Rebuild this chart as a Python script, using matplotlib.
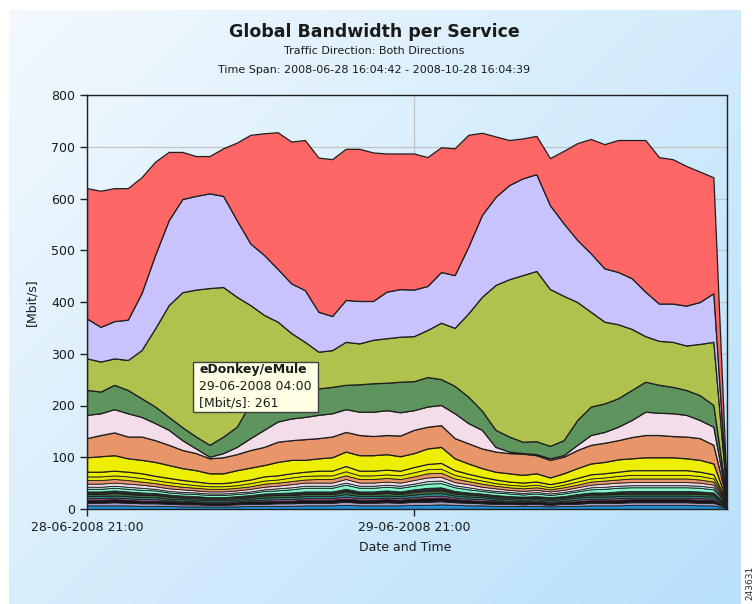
import matplotlib
matplotlib.use("Agg")
import matplotlib.pyplot as plt
import matplotlib.dates as mdates
from matplotlib.patches import Rectangle
import numpy as np
import pandas as pd

# ---------------- data (hourly) ----------------
times = pd.date_range("2008-06-28 21:00", periods=48, freq="h")

# stacked upper boundaries of the big services (Mbit/s)
red_top = [620,615,620,620,641,671,690,690,682,682, 697,708,723,726,728,710,713,679,676,696,
           696,689,687,687,687,680,699,697,723,727, 720,713,716,721,678,692,707,715,705,713,
           713,713,680,676,663,652,641,23]
lavender_top = [368,352,363,366,417,491,558,599,605,610, 605,558,513,491,464,436,423,381,373,404,
                402,402,420,425,424,431,458,452,507,568, 603,626,639,647,587,552,520,494,465,458,
                446,420,397,397,393,400,417,21]
edonkey_top = [291,285,291,288,307,349,394,419,424,427, 429,410,394,375,362,340,323,304,307,323,
               320,327,330,333,334,346,360,350,378,410, 433,444,452,460,425,412,400,381,362,357,
               348,334,325,323,316,319,323,20]
dkgreen_top = [230,227,240,230,214,198,178,158,140,124, 140,159,205,222,230,232,232,233,236,240,
               241,243,244,246,247,255,251,238,217,190, 153,140,130,131,122,133,172,198,204,214,
               230,246,240,236,230,220,201,18]
pink_top = [182,185,193,185,178,166,153,133,117,101, 108,120,137,153,169,175,178,182,185,193,
            188,188,191,187,191,198,201,185,166,153, 120,111,108,106,98,104,124,143,149,159,
            172,188,186,185,182,172,159,17]
orange_top = [137,143,148,140,140,133,124,114,108,98, 100,106,114,120,130,133,135,137,140,149,
              143,141,143,142,153,159,162,137,127,117, 111,108,107,104,95,101,114,124,128,133,
              139,143,143,141,140,137,124,16]
yellow_top = [100,102,104,98,95,91,85,79,75,69, 69,75,80,85,91,95,95,98,100,111,
              104,104,106,102,108,117,120,98,88,79, 72,69,66,69,61,69,79,88,91,96,
              98,100,100,100,98,95,88,15]

# small services at the bottom (values, bottom to top)
blue = [7,7,7,7,6,6,6,5,5,5, 5,5,6,6,6,6,7,7,7,8, 7,7,7,7,8,8,9,8,7,7, 6,6,6,6,5,6,6,7,7,7, 8,8,8,8,8,7,7,2]
lavgray = [5,5,6,5,5,5,4,4,4,3, 3,4,4,4,5,5,5,5,5,6, 5,5,6,5,6,6,6,5,5,4, 4,4,3,4,3,4,4,5,5,5, 5,5,5,5,5,5,5,1]
black = [6,6,6,6,5,5,5,5,4,4, 4,4,5,5,5,5,6,6,6,6, 6,6,6,6,6,7,7,6,5,5, 5,4,4,4,4,4,5,5,5,6, 6,6,6,6,6,6,5,1]
magenta = [3,3,3,3,3,3,2,2,2,2, 2,2,2,3,3,3,3,3,3,4, 3,3,3,3,3,4,4,3,3,3, 2,2,2,2,2,2,3,3,3,3, 3,3,3,3,3,3,3,1]
teal = [4,4,4,4,4,4,3,3,3,3, 3,3,3,4,4,4,4,4,4,5, 4,4,4,4,5,5,5,4,4,4, 3,3,3,3,3,3,4,4,4,4, 4,4,4,4,4,4,4,1]
dkgreen_thin = [4,4,5,4,4,4,4,3,3,3, 3,3,3,4,4,4,4,4,4,5, 4,4,5,4,5,5,5,4,4,3, 3,3,3,3,3,3,3,4,4,4, 4,4,4,4,4,4,4,1]
nearblack = [5,5,5,5,5,4,4,4,4,3, 3,4,4,4,4,5,5,5,5,5, 5,5,5,5,5,6,6,5,4,4, 4,3,3,3,3,3,4,4,4,5, 5,5,5,5,5,5,4,1]
aquamarine = [5,5,5,5,5,5,4,4,4,4, 4,4,4,5,5,6,7,7,7,8, 7,7,7,7,7,8,8,7,6,5, 5,5,4,5,4,5,5,6,7,7, 7,7,7,7,7,7,6,1]
cyanlight = [4,4,4,4,4,3,3,3,3,3, 3,3,3,3,4,4,4,4,4,4, 4,4,4,4,4,5,5,4,4,3, 3,3,3,3,3,3,3,4,4,4, 4,4,4,4,4,4,4,1]
pinkwhite = [6,6,6,6,6,5,5,5,4,4, 4,4,5,5,5,6,6,6,6,7, 6,6,6,6,7,7,7,6,6,5, 5,4,4,4,4,4,5,5,6,6, 6,6,6,6,6,6,5,1]
salmon_thin = [7,7,7,7,6,6,6,5,5,5, 5,5,5,6,6,6,6,7,7,7, 7,7,7,7,7,8,8,7,6,6, 5,5,5,5,4,5,5,6,6,6, 7,7,7,7,7,6,6,1]
gold = [7,7,7,7,7,6,6,6,5,5, 5,5,6,6,6,7,7,7,7,8, 7,7,7,7,8,8,8,7,6,6, 5,5,5,5,4,5,6,6,6,7, 7,7,7,7,7,7,6,1]
yellow2 = [9,9,9,9,9,8,8,7,7,6, 6,7,7,8,8,8,8,9,9,10, 9,9,9,9,10,10,11,9,8,7, 7,6,6,6,6,6,7,8,8,8, 9,9,9,9,9,8,8,1]

thin_layers = [
    (blue, "#1f8fd6"), (lavgray, "#a39cc4"), (black, "#141414"), (magenta, "#c45aa8"),
    (teal, "#2a8a8a"), (dkgreen_thin, "#3d6e3d"), (nearblack, "#2a2a2a"),
    (aquamarine, "#7ff5c8"), (cyanlight, "#a8e4e0"), (pinkwhite, "#f2dbe9"),
    (salmon_thin, "#e8956a"), (gold, "#e6e600"), (yellow2, "#eeee00"),
]
main_layers = [
    (yellow_top, "#eeee00"), (orange_top, "#e8956a"), (pink_top, "#f3dde9"),
    (dkgreen_top, "#5e945e"), (edonkey_top, "#b0c24e"), (lavender_top, "#c8c3fd"),
    (red_top, "#ff6666"),
]

tick_times = pd.to_datetime(["2008-06-28 21:00", "2008-06-29 21:00"])

# ---------------- figure ----------------
W, H = 755, 604
fig = plt.figure(figsize=(W / 100, H / 100), dpi=100)
fig.patch.set_facecolor("white")

# gradient background panel
bg = fig.add_axes([9 / W, 0, (741 - 9) / W, (H - 10) / H], zorder=-5)
gx = np.linspace(0, 1, 300)[None, :]
gy = np.linspace(0, 1, 300)[:, None]
t = np.clip(0.55 * gx + 0.45 * gy, 0, 1)
c0 = np.array([243, 249, 254]) / 255.0
c1 = np.array([184, 224, 250]) / 255.0
img = c0[None, None, :] + (c1 - c0)[None, None, :] * t[..., None]
bg.imshow(img, aspect="auto", extent=[0, 1, 0, 1], origin="upper")
bg.axis("off")

ax = fig.add_axes([87 / W, 95 / H, 640 / W, 414 / H])
ax.patch.set_alpha(0)

x = mdates.date2num(times.to_pydatetime())
edge = "#1e1e1e"
lower = np.zeros(len(x))
for vals, col in thin_layers:
    upper = lower + np.array(vals, dtype=float)
    ax.fill_between(x, lower, upper, facecolor=col, edgecolor=edge, linewidth=0.6, zorder=2)
    lower = upper
for tops, col in main_layers:
    upper = np.array(tops, dtype=float)
    ax.fill_between(x, lower, upper, facecolor=col, edgecolor=edge, linewidth=0.9, zorder=2)
    lower = upper

ax.set_xlim(x[0], x[-1])
ax.set_ylim(0, 800)
ax.set_yticks(np.arange(0, 801, 100))
ax.set_xticks(mdates.date2num(tick_times.to_pydatetime()))
ax.xaxis.set_major_formatter(mdates.DateFormatter("%d-%m-%Y %H:%M"))
ax.grid(True, color="#c4c4c4", linewidth=0.9, zorder=0)
ax.set_axisbelow(True)
for s in ax.spines.values():
    s.set_color("#202020")
    s.set_linewidth(1.0)
ax.tick_params(axis="both", direction="out", length=5, width=1, labelsize=9,
               colors="#202020", labelcolor="#1a1a1a")

ax.set_ylabel("[Mbit/s]", fontsize=9, color="#1a1a1a")
ax.yaxis.set_label_coords(-0.076, 0.5)
ax.set_xlabel("Date and Time", fontsize=9, color="#1a1a1a")
ax.xaxis.set_label_coords(0.497, -0.078)

# titles
fig.text(374 / W, 1 - 32 / H, "Global Bandwidth per Service", ha="center", va="center",
         fontsize=12.5, fontweight="bold", color="#1a1a1a")
fig.text(374 / W, 1 - 51 / H, "Traffic Direction: Both Directions", ha="center", va="center",
         fontsize=8, color="#1a1a1a")
fig.text(374 / W, 1 - 70 / H, "Time Span: 2008-06-28 16:04:42 - 2008-10-28 16:04:39",
         ha="center", va="center", fontsize=8, color="#1a1a1a")

# tooltip
tip = Rectangle((193 / W, 1 - 412 / H), 125 / W, 50 / H, transform=fig.transFigure,
                facecolor="#ffffe4", edgecolor="#404040", linewidth=1.0, zorder=20)
fig.patches.append(tip)
fig.text(199 / W, 1 - 370 / H, "eDonkey/eMule", ha="left", va="center", fontsize=9,
         fontweight="bold", color="#1a1a1a", zorder=21)
fig.text(199 / W, 1 - 387 / H, "29-06-2008 04:00", ha="left", va="center", fontsize=9,
         color="#1a1a1a", zorder=21)
fig.text(199 / W, 1 - 403 / H, "[Mbit/s]: 261", ha="left", va="center", fontsize=9,
         color="#1a1a1a", zorder=21)

# figure number at the right margin
fig.text(750 / W, 1 - 583 / H, "243631", rotation=90, ha="center", va="center",
         fontsize=6.5, color="#303030")

fig.savefig("out.png", dpi=100)
